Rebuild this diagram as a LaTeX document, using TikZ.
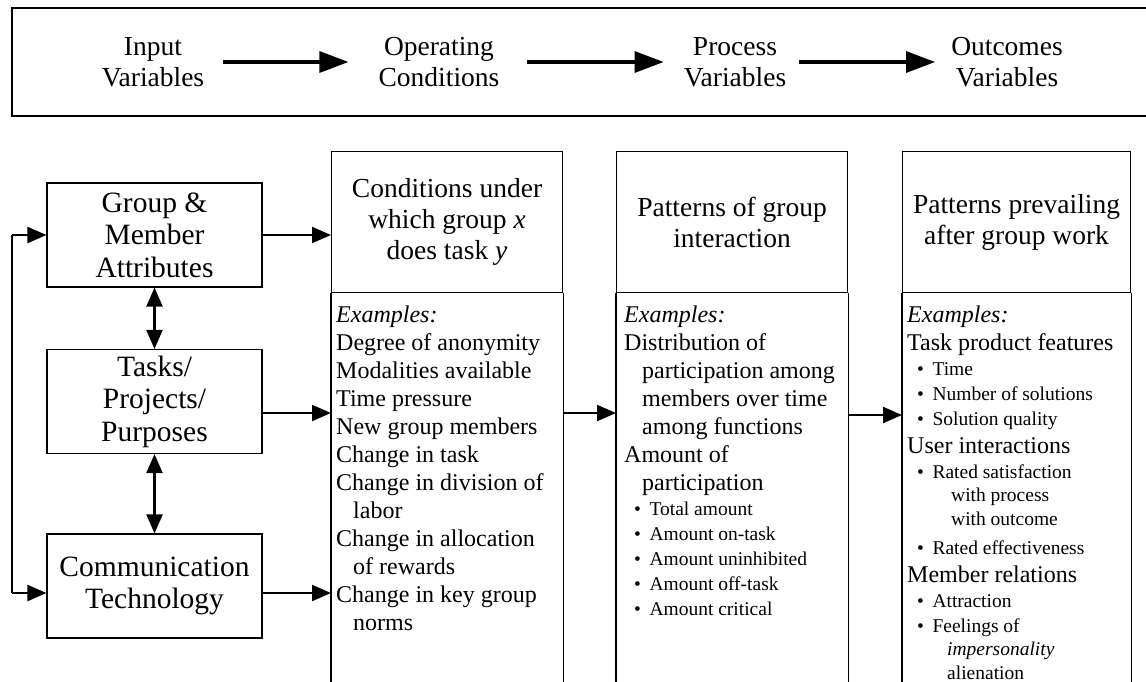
\documentclass[tikz,border=0pt]{standalone}
\usepackage{fontspec}
\setmainfont{Liberation Serif}
\usetikzlibrary{arrows.meta}

% font sizes (1pt = one unit of the drawing grid)
\newcommand\topfont{\fontsize{27.5}{31}\selectfont}
\newcommand\headfont{\fontsize{27.5}{31}\selectfont}
\newcommand\boxfont{\fontsize{29.5}{32.5}\selectfont}
% one line of body text, optionally indented
\newcommand\bodyrow[2][0pt]{\par\fontsize{24}{28}\selectfont\noindent\hspace*{#1}#2}
% one bulleted line in the smaller size
\newcommand\bulletrow[1]{\par\fontsize{19.5}{25}\selectfont\noindent\hspace*{10pt}\textbullet\hspace{8.5pt}#1}
% continuation line under a bullet
\newcommand\subrow[2][44pt]{\par\fontsize{19.5}{23.5}\selectfont\noindent\hspace*{#1}#2}

\tikzset{
  frame/.style={line width=1.1pt},
  inbox/.style={draw, line width=1.1pt, minimum width=215pt, minimum height=104pt,
                align=center, font=\boxfont, inner sep=2pt},
  headbox/.style={draw, line width=1.1pt, minimum height=141pt, anchor=north west,
                  align=center, font=\headfont, inner sep=2pt},
  stage/.style={align=center, font=\topfont, inner sep=0pt},
  bigarrow/.style={line width=3.2pt, -{Triangle[length=29pt,width=21pt]}},
  flow/.style={line width=2.2pt, -{Triangle[length=19pt,width=16pt]}},
  twoway/.style={line width=2.2pt, {Triangle[length=19pt,width=16pt]}-{Triangle[length=19pt,width=16pt]}},
  bodytext/.style={anchor=base west, inner sep=0pt}
}

\begin{document}
\begin{tikzpicture}[x=1pt,y=-1pt]
\clip (0,0) rectangle (1146,681);
\fill[white] (0,0) rectangle (1146,681);

% ---- stage banner ----
\draw[frame] (1160,8) -- (12,8) -- (12,116) -- (1160,116);
\node[stage] (in)  at (153,62) {Input\\Variables};
\node[stage] (op)  at (439,62) {Operating\\Conditions};
\node[stage] (pr)  at (735,62) {Process\\Variables};
\node[stage] (oc)  at (1007,62) {Outcomes\\Variables};
\draw[bigarrow, shorten <=19pt, shorten >=30pt] (in.east) -- (op.west);
\draw[bigarrow, shorten <=27pt, shorten >=20pt] (op.east) -- (pr.west);
\draw[bigarrow, shorten <=13pt, shorten >=16pt] (pr.east) -- (oc.west);

% ---- input boxes ----
\node[inbox] (b1) at (154.5,235) {Group \&\\Member\\Attributes};
\node[inbox] (b2) at (154.5,401.5) {Tasks/\\Projects/\\Purposes};
\node[inbox] (b3) at (154.5,586) {Communication\\Technology};

\draw[twoway] (b1.south) -- (b2.north);
\draw[twoway] (b2.south) -- (b3.north);

% feedback line on the left
\coordinate (lt) at (12,235);
\coordinate (lb) at (12,593);
\draw[line width=2.2pt] (lt) -- (lb);
\draw[flow] (lt) -- (b1.west);
\draw[flow] (lb) -- (b3.west |- lb);

% ---- column heads ----
\node[headbox, minimum width=231pt] (h1) at (331,151)
  {Conditions under\\which group \textit{x}\\does task \textit{y}};
\node[headbox, minimum width=231pt] (h2) at (616,151)
  {Patterns of group\\interaction};
\node[headbox, minimum width=228pt] (h3) at (902,151)
  {Patterns prevailing\\after group work};

% column sides running past the lower edge
\foreach \h in {h1,h2,h3}{
  \draw[frame] (\h.south west) -- ++(0,450);
  \draw[frame] (\h.south east) -- ++(0,450);
}

% ---- column contents ----
\node[bodytext] (t1) at (336,322) {\begin{minipage}[t]{224pt}
  \bodyrow{\textit{Examples:}}
  \bodyrow{Degree of anonymity}
  \bodyrow{Modalities available}
  \bodyrow{Time pressure}
  \bodyrow{New group members}
  \bodyrow{Change in task}
  \bodyrow{Change in division of}
  \bodyrow[17pt]{labor}
  \bodyrow{Change in allocation}
  \bodyrow[17pt]{of rewards}
  \bodyrow{Change in key group}
  \bodyrow[17pt]{norms}
\end{minipage}};

\node[bodytext] (t2) at (624,322) {\begin{minipage}[t]{222pt}
  \bodyrow{\textit{Examples:}}
  \bodyrow{Distribution of}
  \bodyrow[18pt]{participation among}
  \bodyrow[18pt]{members over time}
  \bodyrow[18pt]{among functions}
  \bodyrow{Amount of}
  \bodyrow[18pt]{participation}
  \bulletrow{Total amount}
  \bulletrow{Amount on-task}
  \bulletrow{Amount uninhibited}
  \bulletrow{Amount off-task}
  \bulletrow{Amount critical}
\end{minipage}};

\node[bodytext] (t3) at (907,322) {\begin{minipage}[t]{220pt}
  \bodyrow{\textit{Examples:}}
  \bodyrow{Task product features}
  \bulletrow{Time}
  \bulletrow{Number of solutions}
  \bulletrow{Solution quality}
  \bodyrow{User interactions}
  \bulletrow{Rated satisfaction}
  \subrow{with process}
  \subrow{with outcome}
  \vspace{4pt}
  \bulletrow{Rated effectiveness}
  \bodyrow{Member relations}
  \bulletrow{Attraction}
  \bulletrow{Feelings of}
  \subrow[40pt]{\textit{impersonality}}
  \subrow[40pt]{alienation}
\end{minipage}};

% ---- flow between stages ----
\coordinate (r1) at (0,235);
\coordinate (r2) at (0,413);
\coordinate (r3) at (0,593);
\coordinate (r4) at (0,415);
\draw[flow] (b1.east |- r1) -- (h1.west |- r1);
\draw[flow] (b2.east |- r2) -- (h1.west |- r2);
\draw[flow] (b3.east |- r3) -- (h1.west |- r3);
\draw[flow] (h1.east |- r2) -- (h2.west |- r2);
\draw[flow] (h2.east |- r4) -- (h3.west |- r4);
\end{tikzpicture}
\end{document}
